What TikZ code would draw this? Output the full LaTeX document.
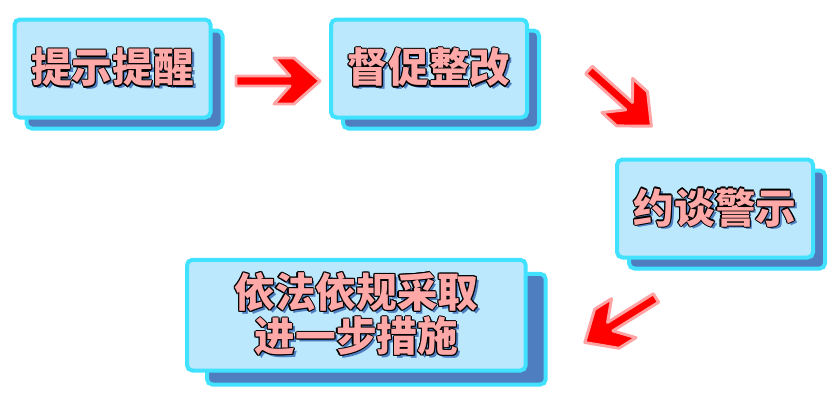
\documentclass[tikz,border=0pt]{standalone}
\usepackage{fontspec}
\usepackage{tikz}
\usetikzlibrary{positioning,shadows}
\newfontfamily\cjk{Noto Sans CJK SC Black}
\definecolor{boxfill}{HTML}{BCE8FD}
\definecolor{boxline}{HTML}{40E2FF}
\definecolor{backfill}{HTML}{4E7DC0}
\definecolor{textpink}{HTML}{FFA8A8}
\definecolor{arrowred}{HTML}{FF0000}
\definecolor{arrowglow}{HTML}{FFA4A4}
\tikzset{>=latex}
% outlined text with a blue drop shadow
\newcommand\outl[1]{\leavevmode
  \rlap{\kern2.2pt\raisebox{-2.2pt}{\textcolor{backfill}{#1}}}%
  \rlap{\kern0.8pt\textcolor{black}{#1}}\rlap{\kern-0.8pt\textcolor{black}{#1}}%
  \rlap{\raisebox{0.8pt}{\textcolor{black}{#1}}}\rlap{\raisebox{-0.8pt}{\textcolor{black}{#1}}}%
  \rlap{\kern0.6pt\raisebox{0.6pt}{\textcolor{black}{#1}}}\rlap{\kern-0.6pt\raisebox{0.6pt}{\textcolor{black}{#1}}}%
  \rlap{\kern0.6pt\raisebox{-0.6pt}{\textcolor{black}{#1}}}\rlap{\kern-0.6pt\raisebox{-0.6pt}{\textcolor{black}{#1}}}%
  \textcolor{textpink}{#1}}

\begin{document}
\begin{tikzpicture}[x=0.75pt,y=0.75pt,
  stepbox/.style={draw=boxline, fill=boxfill, line width=3pt, rounded corners=4pt,
    minimum width=147pt, minimum height=73.5pt, inner sep=0pt, align=center,
    font=\cjk\fontsize{30.5}{32}\selectfont},
  smallshadow/.style={copy shadow={shadow xshift=9pt, shadow yshift=-8.25pt, fill=backfill, draw=boxline, line width=3pt}},
  bigshadow/.style={copy shadow={shadow xshift=15pt, shadow yshift=-10.5pt, fill=backfill, draw=boxline, line width=3pt}},
  redarrow/.style={fill=arrowred, draw=arrowglow, line width=2.2pt, line join=round},
  pics/fatarrow/.style={code={
    \draw[redarrow] (0,5) -- (54,5) -- (38,23) -- (58,23) -- (84,0) -- (58,-23) -- (38,-23) -- (54,-5) -- (0,-5) -- cycle;}},
  node distance=1cm, on grid]
  \useasboundingbox (0,0) rectangle (835,405);
  \node[stepbox, smallshadow] (remind) at (112.5,336.5) {\outl{提示提醒}};
  \node[stepbox, smallshadow] (urge) [right=237.4pt of remind] {\outl{督促整改}};
  \node[stepbox, smallshadow] (talk) [below right=105pt and 214.5pt of urge] {\outl{约谈警示}};
  \node[stepbox, minimum width=254pt, minimum height=83pt, bigshadow] (law)
    [below left=80pt and 269pt of talk] {\outl{依法依规采取}\\\outl{进一步措施}};
  \coordinate (a1) at (236,324);
  \coordinate (a2) at (589,335);
  \coordinate (a3) at (656,107);
  \pic at (a1) {fatarrow};
  \pic[rotate=-42] at (a2) {fatarrow};
  \pic[rotate=212] at (a3) {fatarrow};
\end{tikzpicture}
\end{document}
